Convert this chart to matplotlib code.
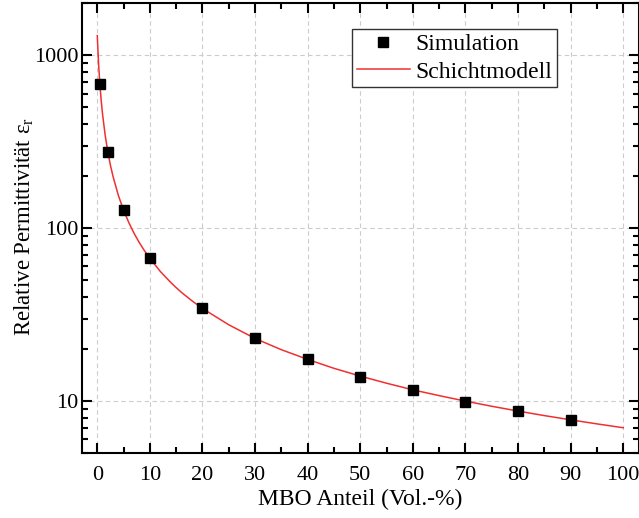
import matplotlib
matplotlib.use("Agg")
import matplotlib.pyplot as plt
from matplotlib.ticker import FixedLocator, LogLocator, NullFormatter, FuncFormatter

plt.rcParams["font.family"] = ["Liberation Serif", "DejaVu Serif"]
plt.rcParams["mathtext.fontset"] = "custom"
plt.rcParams["mathtext.rm"] = "Liberation Serif"
plt.rcParams["mathtext.it"] = "Liberation Serif:italic"

# Simulated permittivity vs. MBO volume fraction
sim_x = [0.5, 2, 5, 10, 20, 30, 40, 50, 60, 70, 80, 90]
sim_y = [680, 275, 127, 67, 34.3, 23.0, 17.4, 13.8, 11.6, 9.9, 8.7, 7.8]

# Layer model (series connection) curve
model_x = [0, 0.25, 0.5, 0.75, 1, 1.5, 2, 2.5, 3, 4, 5, 6, 7, 8, 9, 10, 12, 14, 15,
           16, 18, 20, 25, 30, 35, 40, 45, 50, 55, 60, 65, 70, 75, 80, 85, 90, 95, 100]
model_y = [1300, 889, 676, 545, 457, 345, 277, 231, 199, 155, 127, 107.6, 93.3, 82.4,
           73.8, 66.8, 56.1, 48.4, 45.3, 42.5, 38.0, 34.3, 27.6, 23.0, 19.8, 17.4,
           15.45, 13.93, 12.67, 11.6, 10.74, 9.98, 9.32, 8.74, 8.23, 7.78, 7.37, 7.0]

x_ticks = [0, 10, 20, 30, 40, 50, 60, 70, 80, 90, 100]
y_ticks = [10, 100, 1000]

fig = plt.figure(figsize=(6.39, 5.18), dpi=100)
ax = fig.add_axes([81.5 / 639, 65 / 518, 557.5 / 639, 449.7 / 518])

ax.set_yscale("log")
ax.set_xlim(-3, 103)
ax.set_ylim(5, 2000)

ax.grid(True, which="major", color="#cccccc", linestyle=(0, (4, 3)), linewidth=0.8)
ax.set_axisbelow(True)

ax.plot(model_x, model_y, color="#f03030", linewidth=1.1, label="Schichtmodell", zorder=2)
ax.plot(sim_x, sim_y, linestyle="none", marker="s", markersize=6.8, color="black",
        markeredgecolor="black", label="Simulation", zorder=3)

ax.xaxis.set_major_locator(FixedLocator(x_ticks))
ax.xaxis.set_minor_locator(FixedLocator([5 + 10 * i for i in range(10)]))
ax.yaxis.set_major_locator(FixedLocator(y_ticks))
ax.yaxis.set_minor_locator(LogLocator(base=10, subs=range(2, 10), numticks=20))
ax.yaxis.set_major_formatter(FuncFormatter(lambda v, p: f"{v:g}"))
ax.yaxis.set_minor_formatter(NullFormatter())

ax.tick_params(which="both", direction="in", top=True, right=True, width=1.5)
ax.tick_params(which="major", length=7, labelsize=16)
ax.tick_params(axis="x", which="major", pad=9)
ax.tick_params(axis="y", which="major", pad=2)
ax.tick_params(which="minor", length=4)
for s in ax.spines.values():
    s.set_linewidth(1.5)

ax.set_xlabel("MBO Anteil (Vol.-%)", fontsize=17, labelpad=3)
ax.set_ylabel(r"Relative Permittivität ε$_\mathrm{r}$", fontsize=16.5)
ax.yaxis.set_label_coords(-0.082, 0.504)

handles, labels = ax.get_legend_handles_labels()
leg = ax.legend(handles[::-1], labels[::-1], loc="upper left",
                bbox_to_anchor=(0.485, 0.943), fontsize=17, frameon=True,
                fancybox=False, edgecolor="#333333", framealpha=1,
                handlelength=2.25, borderpad=0.2, labelspacing=0.25,
                handletextpad=0.25, borderaxespad=0)
leg.get_frame().set_linewidth(1.0)

fig.savefig("out.png", dpi=100)
